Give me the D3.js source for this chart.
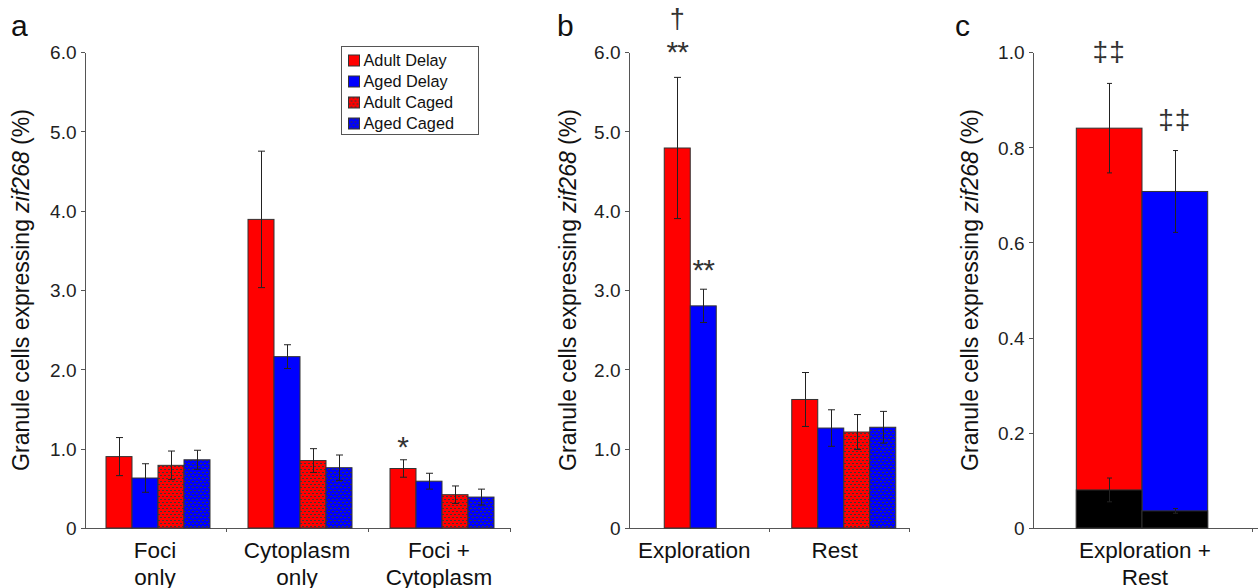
<!DOCTYPE html>
<html lang="en">
<head>
<meta charset="utf-8" />
<title>Granule cells expressing zif268</title>
<script src="https://cdn.jsdelivr.net/npm/d3@7"></script>
<style>
  body{margin:0;background:#fff;}
  svg{display:block;font-family:"Liberation Sans",Arial,sans-serif;}
  .bar{stroke:#333;stroke-width:1}
  .err{stroke:#222;stroke-width:1;fill:none}
  .ax path,.ax line,.xline{stroke:#555;stroke-width:1;fill:none;shape-rendering:crispEdges}
  .ax text{font-size:19px;fill:#222;font-family:"Liberation Sans",Arial,sans-serif}
  .cat-label{font-size:22.5px;fill:#111}
  .y-title{font-size:23px;fill:#111}
  .panel-label{font-size:30px;fill:#111}
  .legend text{font-size:16.3px;fill:#111}
  .note{fill:#333}
</style>
</head>
<body>
<svg id="chart" width="1258" height="588"></svg>
<script>
/* ---------- data ---------- */
const seriesNames = ["Adult Delay", "Aged Delay", "Adult Caged", "Aged Caged"];

// panel a : zif268 expression pattern
const catsA   = [["Foci", "only"], ["Cytoplasm", "only"], ["Foci +", "Cytoplasm"]];
const seriesA = [[0, 1, 2, 3], [0, 1, 2, 3], [0, 1, 2, 3]];
const meansA  = [[0.90, 0.63, 0.79, 0.86], [3.89, 2.16, 0.85, 0.76], [0.75, 0.59, 0.42, 0.39]];
const errsA   = [[0.24, 0.18, 0.18, 0.12], [0.86, 0.15, 0.15, 0.16], [0.11, 0.10, 0.11, 0.10]];
const ticksA  = [0, 1, 2, 3, 4, 5, 6];

// panel b : exploration vs rest
const catsB   = [["Exploration"], ["Rest"]];
const seriesB = [[0, 1], [0, 1, 2, 3]];
const meansB  = [[4.79, 2.80], [1.62, 1.26, 1.21, 1.27]];
const errsB   = [[0.89, 0.21], [0.34, 0.23, 0.22, 0.20]];
const ticksB  = [0, 1, 2, 3, 4, 5, 6];

// panel c : both epochs (total + black portion)
const catsC     = [["Exploration +", "Rest"]];
const seriesC   = [[0, 1]];
const totalsC   = [[0.840, 0.707]];
const totalErrC = [[0.094, 0.086]];
const blackC    = [[0.080, 0.036]];
const blackErrC = [[0.025, 0.005]];
const ticksC    = [0, 0.2, 0.4, 0.6, 0.8, 1.0];

// significance marks
const notesA = [{cat: 2, s: 0, text: "*"}];
const notesB = [{cat: 0, s: 0, text: "**"}, {cat: 0, s: 0, text: "†"}, {cat: 0, s: 1, text: "**"}];
const notesC = [{cat: 0, s: 0, text: "‡‡"}, {cat: 0, s: 1, text: "‡‡"}];

/* ---------- styles / layout ---------- */
const fills = ["#ff0000", "#0000ff", "url(#cagedRed)", "url(#cagedBlue)"];
const Y0 = 528, Y1 = 52;

const svg = d3.select("#chart");
const defs = svg.append("defs");
[["cagedRed", "#ff0000"], ["cagedBlue", "#0000ff"]].forEach(([id, c]) => {
  const p = defs.append("pattern").attr("id", id).attr("patternUnits", "userSpaceOnUse")
    .attr("width", 4).attr("height", 6);
  p.append("rect").attr("width", 4).attr("height", 6).attr("fill", c);
  p.append("rect").attr("x", 0).attr("y", 1).attr("width", 2).attr("height", 1).attr("fill", "#3a3a3a");
  p.append("rect").attr("x", 2).attr("y", 4).attr("width", 2).attr("height", 1).attr("fill", "#3a3a3a");
});

function fmt(d) { return d === 0 ? "0" : d.toFixed(1); }

function panel(o) {
  const g = svg.append("g");
  const y = d3.scaleLinear().domain([0, o.max]).range([Y0, Y1]);
  const x = d3.scaleBand().domain(d3.range(o.cats.length)).range([o.x0, o.x1]);

  // x axis line + boundary ticks
  g.append("line").attr("class", "xline")
    .attr("x1", o.x0).attr("x2", o.xEnd).attr("y1", Y0 + 0.5).attr("y2", Y0 + 0.5);
  g.selectAll("line.xt").data(d3.range(o.cats.length)).join("line").attr("class", "xline")
    .attr("x1", i => Math.round(x(i) + x.bandwidth()) + 0.5)
    .attr("x2", i => Math.round(x(i) + x.bandwidth()) + 0.5)
    .attr("y1", Y0).attr("y2", Y0 + 4);

  // y axis
  g.append("g").attr("class", "ax").attr("transform", `translate(${o.x0 + 0.5},0)`)
    .call(d3.axisLeft(y).tickValues(o.ticks).tickFormat(fmt).tickSize(4).tickSizeOuter(0).tickPadding(4))
    .call(a => a.selectAll("text").attr("dy", "0.36em"));

  // bar positions
  const pos = [];
  o.series.forEach((ss, i) => {
    const start = x(i) + (x.bandwidth() - ss.length * o.barW) / 2 + o.shift[i];
    ss.forEach((s, k) => pos.push({cat: i, k, s, x: start + k * o.barW}));
  });
  const barX = (i, k) => pos.find(p => p.cat === i && p.k === k).x;

  const bars = g.append("g");
  pos.forEach(p => {
    bars.append("rect").attr("class", "bar")
      .attr("x", p.x).attr("width", o.barW)
      .attr("y", y(o.means[p.cat][p.k])).attr("height", Y0 - y(o.means[p.cat][p.k]))
      .attr("fill", fills[p.s]);
  });
  if (o.inner) {
    pos.forEach(p => {
      bars.append("rect").attr("class", "bar")
        .attr("x", p.x).attr("width", o.barW)
        .attr("y", y(o.inner[p.cat][p.k])).attr("height", Y0 - y(o.inner[p.cat][p.k]))
        .attr("fill", "#000");
    });
  }

  // error bars
  function err(cx, m, e) {
    const p = d3.path();
    p.moveTo(cx, y(m - e)); p.lineTo(cx, y(m + e));
    p.moveTo(cx - o.cap / 2, y(m + e)); p.lineTo(cx + o.cap / 2, y(m + e));
    p.moveTo(cx - o.cap / 2, y(m - e)); p.lineTo(cx + o.cap / 2, y(m - e));
    g.append("path").attr("class", "err").attr("d", p.toString());
  }
  pos.forEach(p => {
    const cx = Math.round(p.x + o.barW / 2) + 0.5;
    err(cx, o.means[p.cat][p.k], o.errs[p.cat][p.k]);
    if (o.inner) err(cx, o.inner[p.cat][p.k], o.innerErr[p.cat][p.k]);
  });

  // significance marks
  o.notes.forEach((n, j) => {
    const top = o.means[n.cat][n.s] + o.errs[n.cat][n.s];
    g.append("text").attr("class", "note")
      .attr("x", barX(n.cat, n.s) + o.barW / 2)
      .attr("y", y(top) - o.noteLift[j])
      .attr("text-anchor", "middle")
      .style("font-size", o.noteSize[j] + "px")
      .style("letter-spacing", (o.noteSpacing ? o.noteSpacing[j] : 0) + "px")
      .text(n.text);
  });

  // category labels
  o.cats.forEach((lines, i) => {
    const t = g.append("text").attr("class", "cat-label").attr("text-anchor", "middle");
    lines.forEach((ln, k) => t.append("tspan")
      .attr("x", x(i) + x.bandwidth() / 2 + o.labelShift).attr("y", 558 + k * 26.5).text(ln));
  });

  // y title
  const tt = g.append("text").attr("class", "y-title").attr("text-anchor", "middle")
    .attr("transform", `translate(${o.titleX},${(Y0 + Y1) / 2}) rotate(-90)`);
  tt.append("tspan").text("Granule cells expressing ");
  tt.append("tspan").style("font-style", "italic").text("zif268");
  tt.append("tspan").text(" (%)");

  // panel letter
  g.append("text").attr("class", "panel-label").attr("x", o.letterX).attr("y", 36).text(o.letter);
  return g;
}

panel({letter: "a", letterX: 11, titleX: 29, x0: 84, x1: 510, xEnd: 510, max: 6,
  cats: catsA, series: seriesA, means: meansA, errs: errsA, ticks: ticksA,
  barW: 26, cap: 7, shift: [3, 3, 3], labelShift: 0,
  notes: notesA, noteLift: [2.5], noteSize: [30], noteSpacing: [0]});

panel({letter: "b", letterX: 557, titleX: 576, x0: 628, x1: 909, xEnd: 909, max: 6,
  cats: catsB, series: seriesB, means: meansB, errs: errsB, ticks: ticksB,
  barW: 26, cap: 7, shift: [-8, 5], labelShift: -4,
  notes: notesB, noteLift: [15, 49, 9], noteSize: [30, 27, 30], noteSpacing: [-1, 0, -1]});

panel({letter: "c", letterX: 955, titleX: 978, x0: 1032, x1: 1252, xEnd: 1258, max: 1,
  cats: catsC, series: seriesC, means: totalsC, errs: totalErrC, ticks: ticksC,
  inner: blackC, innerErr: blackErrC,
  barW: 65.7, cap: 5, shift: [0], labelShift: 3,
  notes: notesC, noteLift: [22, 22], noteSize: [28, 28], noteSpacing: [1, 1]});

/* ---------- legend (panel a) ---------- */
const lg = svg.append("g").attr("class", "legend").attr("transform", "translate(341.5,46.5)");
lg.append("rect").attr("width", 137).attr("height", 88).attr("fill", "#fff").attr("stroke", "#555");
seriesNames.forEach((name, i) => {
  const row = lg.append("g").attr("transform", `translate(7,${14 + i * 21})`);
  row.append("rect").attr("class", "bar").attr("x", 0).attr("y", -5.5).attr("width", 11).attr("height", 11)
    .attr("fill", fills[i]);
  row.append("text").attr("x", 15).attr("y", 0).attr("dy", "0.35em").text(name);
});
</script>
</body>
</html>
